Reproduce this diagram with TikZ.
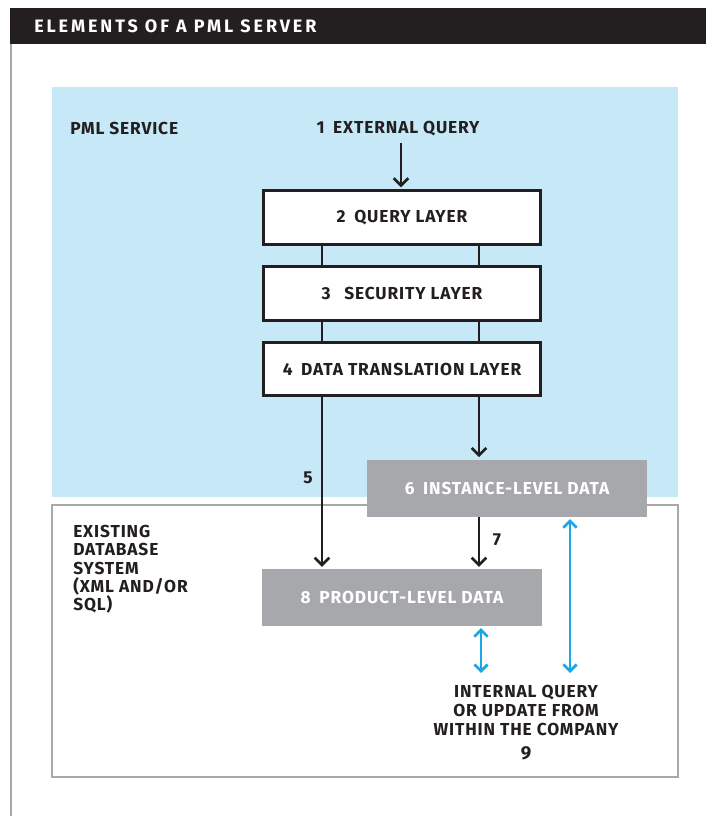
\documentclass[tikz,border=0pt]{standalone}
\usepackage{fontspec}
\setmainfont[LetterSpace=5]{Fira Sans}
\newfontfamily\headfont[LetterSpace=16]{Fira Sans}
\usetikzlibrary{arrows.meta}
\definecolor{titlebar}{HTML}{231F20}
\definecolor{skyfill}{HTML}{C6E8F7}
\definecolor{dbfill}{HTML}{A7A8AB}
\definecolor{frame}{HTML}{A8A8AA}
\definecolor{flowblue}{HTML}{1AA7E8}
\definecolor{ink}{HTML}{231F20}
\tikzset{
  label text/.style={font=\bfseries\fontsize{13}{14}\selectfont, text=ink, inner sep=0pt},
  layerbox/.style={draw=ink, line width=2.2pt, fill=white, minimum width=208pt, minimum height=40pt,
    font=\bfseries\fontsize{13}{14}\selectfont, text=ink},
  databox/.style={fill=dbfill, minimum width=210pt, minimum height=42.5pt,
    font=\bfseries\fontsize{13}{14}\selectfont, text=white},
  link/.style={draw=ink, line width=2pt},
  flow/.style={draw=ink, line width=2pt, -{Straight Barb[length=5.5pt, width=11pt, line width=2pt]}},
  twoway/.style={draw=flowblue, line width=2pt,
    {Straight Barb[length=5pt, width=10pt, line width=2pt]}-{Straight Barb[length=5pt, width=10pt, line width=2pt]}}
}
\begin{document}
\begin{tikzpicture}[x=0.75pt, y=-0.75pt]
\useasboundingbox (0,0) rectangle (706,816);
\fill[white] (0,0) rectangle (706,816);

% heading strip and side rule
\fill[titlebar] (10,8) rectangle (706,44);
\node[anchor=west, text=white, inner sep=0pt, font=\headfont\bfseries\fontsize{13.5}{15}\selectfont] (title) at (34,26.5) {ELEMENTS OF A PML SERVER};
\draw[frame, line width=1.8pt] (11,44) -- (11,816);

% service area and database area
\fill[skyfill] (52,87) rectangle (678,497);
\draw[frame, line width=1.8pt] (52,505) rectangle (678,777);

\node[label text, anchor=west] (svc) at (70,128) {PML SERVICE};
\node[label text] (ext) at (398,129) {1\enspace EXTERNAL QUERY};

% layered stack
\node[layerbox] (q) at (402,217.5) {2\enspace QUERY LAYER};
\node[layerbox] (s) at (402,293.5) {3\enspace\ SECURITY LAYER};
\node[layerbox] (t) at (402,369) {4\enspace DATA TRANSLATION LAYER};

\coordinate (lx) at ([xshift=-60pt]q.south);
\coordinate (rx) at ([xshift=57.75pt]q.south);
\coordinate (e0) at (401,143);

\draw[link] (lx |- q.south) -- (lx |- s.north);
\draw[link] (rx |- q.south) -- (rx |- s.north);
\draw[link] (lx |- s.south) -- (lx |- t.north);
\draw[link] (rx |- s.south) -- (rx |- t.north);

% data stores
\node[databox] (i) at (507,488.5) {6\enspace INSTANCE-LEVEL DATA};
\node[databox] (p) at (402,597.5) {8\enspace PRODUCT-LEVEL DATA};

\draw[flow] (e0) -- ([yshift=1.5pt]e0 |- q.north);
\draw[flow] (lx |- t.south) -- ([yshift=1.5pt]lx |- p.north);
\draw[flow] (rx |- t.south) -- ([yshift=2pt]rx |- i.north);
\draw[flow] (rx |- i.south) -- ([yshift=1.5pt]rx |- p.north);

\node[label text] (n5) at (308,478) {5};
\node[label text] (n7) at (497,540) {7};

\node[label text, anchor=north west, align=left, font=\bfseries\fontsize{13}{13.7}\selectfont] (db) at (73,525)
  {EXISTING\\DATABASE\\SYSTEM\\(XML AND/OR\\SQL)};

% internal access
\coordinate (b1) at (481,673);
\coordinate (b2) at (570,673);
\draw[twoway] ([yshift=-1.5pt]b1 |- p.south) -- (b1);
\draw[twoway] ([yshift=-1.5pt]b2 |- i.south) -- (b2);

\node[label text, align=center, font=\bfseries\fontsize{13}{14.25}\selectfont] (intq) at (526,710)
  {INTERNAL QUERY\\OR UPDATE FROM\\WITHIN THE COMPANY};
\node[label text, font=\bfseries\fontsize{14}{15}\selectfont] (n9) at (526,753) {9};
\end{tikzpicture}
\end{document}
